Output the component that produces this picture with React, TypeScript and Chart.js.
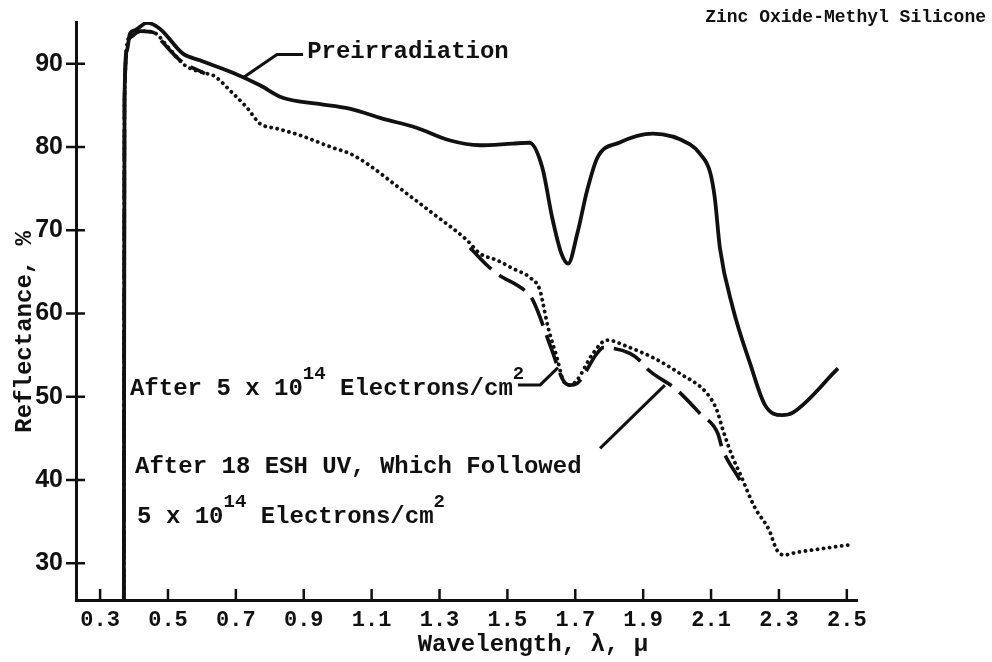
import React, { useEffect, useRef } from "react";
import { Chart, registerables } from "chart.js";

Chart.register(...registerables);

const INK = "#111111";
const MONO = '"Liberation Mono", "Courier New", "DejaVu Sans Mono", monospace';
const SANS = '"Liberation Sans", Arial, sans-serif';

// ---- Data (wavelength in microns, reflectance in %) ----
const preWavelength = [
  0.37, 0.372, 0.379, 0.388, 0.403, 0.438, 0.476, 0.544, 0.594, 0.691,
  0.771, 0.838, 0.938, 1.035, 1.132, 1.232, 1.329, 1.418, 1.515, 1.565,
  1.603, 1.632, 1.659, 1.679, 1.706, 1.735, 1.765, 1.829, 1.929, 2.038,
  2.067, 2.097, 2.111, 2.126, 2.164, 2.215, 2.259, 2.309, 2.341, 2.474,
];
const preReflectance = [
  25.6, 86.0, 91.6, 93.6, 94.0, 94.9, 94.2, 91.2, 90.4, 88.9,
  87.4, 85.9, 85.2, 84.6, 83.4, 82.3, 80.8, 80.2, 80.4, 80.5,
  77.5, 71.5, 67.2, 66.0, 69.6, 74.8, 78.7, 80.5, 81.6, 80.3,
  79.2, 77.0, 73.9, 67.9, 60.7, 54.0, 49.0, 47.8, 48.1, 53.4,
];

const electronWavelength = [
  0.37, 0.372, 0.385, 0.42, 0.46, 0.5, 0.55, 0.615, 0.633, 0.692,
  0.733, 0.771, 0.821, 0.889, 0.986, 1.036, 1.086, 1.184, 1.281, 1.381,
  1.419, 1.469, 1.516, 1.567, 1.596, 1.605, 1.62, 1.646, 1.664, 1.684,
  1.705, 1.752, 1.793, 1.861, 1.929, 2.008, 2.088, 2.117, 2.135, 2.164,
  2.185, 2.229, 2.271, 2.294, 2.315, 2.35, 2.433, 2.503,
];
const electronReflectance = [
  25.6, 86.0, 93.0, 93.9, 93.7, 92.0, 89.8, 88.8, 88.6, 86.4,
  84.7, 82.8, 82.2, 81.4, 79.9, 79.2, 78.0, 75.0, 72.0, 68.8,
  67.2, 66.4, 65.4, 64.3, 62.8, 61.2, 58.3, 54.7, 52.0, 51.4,
  52.0, 55.2, 56.8, 55.9, 54.7, 52.8, 50.4, 48.4, 46.0, 42.7,
  40.8, 36.7, 34.0, 31.6, 31.0, 31.3, 31.8, 32.2,
];

// null = the dashed trace is hidden under the dotted one there
const uvWavelength = [
  0.37, 0.372, 0.385, 0.42, 0.46, 0.486, 0.536, 0.609, 0.64, 1.39,
  1.44, 1.469, 1.558, 1.575, 1.631, 1.664, 1.684, 1.705, 1.764, 1.782,
  1.861, 1.899, 1.911, 1.994, 2.023, 2.067, 2.12, 2.132, 2.185,
];
const uvReflectance: (number | null)[] = [
  25.6, 86.0, 93.0, 93.9, 93.7, 92.5, 90.4, 88.8, null, 67.9,
  65.8, 64.8, 62.5, 61.6, 55.6, 52.0, 51.4, 51.6, 55.2, 55.9,
  55.2, 54.0, 53.4, 51.0, 49.9, 48.0, 45.6, 43.9, 40.0,
];

const xTickValues = [0.3, 0.5, 0.7, 0.9, 1.1, 1.3, 1.5, 1.7, 1.9, 2.1, 2.3, 2.5];
const yTickValues = [30, 40, 50, 60, 70, 80, 90];

const chartTitle = "Zinc Oxide-Methyl Silicone";
const xAxisTitle = "Wavelength, \u03bb, \u03bc";
const yAxisTitle = "Reflectance, %";
const preLabel = "Preirradiation";
type Part = { text: string; sup?: boolean };
const electronLabel: Part[] = [
  { text: "After 5 x 10" },
  { text: "14", sup: true },
  { text: " Electrons/cm" },
  { text: "2", sup: true },
];
const uvLabelLine1 = "After 18 ESH UV, Which Followed";
const uvLabelLine2: Part[] = [
  { text: "5 x 10" },
  { text: "14", sup: true },
  { text: " Electrons/cm" },
  { text: "2", sup: true },
];

const pairs = (xs: number[], ys: (number | null)[]) => xs.map((x, i) => ({ x, y: ys[i] }));

const TEXT_SIZE = 24;
const TEXT_FONT = `bold ${TEXT_SIZE}px ${MONO}`;

function drawRich(ctx: CanvasRenderingContext2D, parts: Part[], x: number, y: number) {
  let cx = x;
  for (const p of parts) {
    ctx.font = p.sup ? `bold 19px ${MONO}` : TEXT_FONT;
    ctx.fillText(p.text, cx, p.sup ? y - 16 : y);
    cx += ctx.measureText(p.text).width;
  }
}

const annotate = {
  id: "annotate",
  afterDraw(chart: any) {
    const { ctx, chartArea: a } = chart;
    const xs = chart.scales.x;
    const ys = chart.scales.y;
    const X = (v: number) => xs.getPixelForValue(v);
    const Y = (v: number) => ys.getPixelForValue(v);
    ctx.save();
    ctx.strokeStyle = INK;
    ctx.fillStyle = INK;

    // inward tick marks
    ctx.lineWidth = 2.5;
    ctx.beginPath();
    xTickValues.forEach((v) => {
      ctx.moveTo(X(v), a.bottom);
      ctx.lineTo(X(v), a.bottom - 11);
    });
    yTickValues.forEach((v) => {
      ctx.moveTo(a.left - 10, Y(v));
      ctx.lineTo(a.left + 9, Y(v));
    });
    ctx.stroke();

    // leader lines (anchored in data coordinates)
    const poly = (pts: number[][]) => {
      ctx.beginPath();
      pts.forEach(([vx, vy], i) => (i ? ctx.lineTo(X(vx), Y(vy)) : ctx.moveTo(X(vx), Y(vy))));
      ctx.stroke();
    };
    ctx.lineWidth = 3;
    ctx.lineJoin = "round";
    poly([[0.721, 88.3], [0.821, 91.1], [0.898, 91.1]]);
    poly([[1.531, 51.4], [1.596, 51.4], [1.649, 53.5]]);
    poly([[1.773, 43.8], [1.964, 51.4]]);

    // texts
    ctx.textBaseline = "middle";
    ctx.textAlign = "right";
    ctx.font = `bold 18px ${MONO}`;
    ctx.fillText(chartTitle, chart.width - 6, 17);

    ctx.textAlign = "left";
    ctx.font = TEXT_FONT;
    ctx.fillText(preLabel, X(0.91), Y(91.4));

    ctx.textBaseline = "alphabetic";
    drawRich(ctx, electronLabel, X(0.388), Y(50.16));
    ctx.font = TEXT_FONT;
    ctx.fillText(uvLabelLine1, X(0.403), Y(40.8));
    drawRich(ctx, uvLabelLine2, X(0.409), Y(34.8));

    // axis titles
    ctx.textBaseline = "middle";
    ctx.textAlign = "center";
    ctx.font = TEXT_FONT;
    ctx.fillText(xAxisTitle, X(1.575), a.bottom + 45);
    ctx.save();
    ctx.translate(a.left - 51, Y(57.8));
    ctx.rotate(-Math.PI / 2);
    ctx.fillText(yAxisTitle, 0, 0);
    ctx.restore();

    ctx.restore();
  },
};

export default function App() {
  const canvasRef = useRef<HTMLCanvasElement | null>(null);

  useEffect(() => {
    const canvas = canvasRef.current;
    if (!canvas) return;
    const common = {
      pointRadius: 0,
      pointHoverRadius: 0,
      fill: false,
      borderColor: INK,
      cubicInterpolationMode: "monotone" as const,
      spanGaps: false,
    };
    const chart = new Chart(canvas, {
      type: "line",
      data: {
        datasets: [
          {
            ...common,
            label: preLabel,
            data: pairs(preWavelength, preReflectance),
            borderWidth: 3.8,
          },
          {
            ...common,
            label: "After 5 x 10^14 Electrons/cm^2",
            data: pairs(electronWavelength, electronReflectance),
            borderWidth: 3.8,
            borderDash: [0.1, 6],
            borderCapStyle: "round",
          },
          {
            ...common,
            label: "After 18 ESH UV, Which Followed 5 x 10^14 Electrons/cm^2",
            data: pairs(uvWavelength, uvReflectance),
            borderWidth: 3.6,
            borderDash: [30, 10],
            borderCapStyle: "butt",
          },
        ],
      } as any,
      options: {
        animation: false,
        responsive: false,
        maintainAspectRatio: false,
        devicePixelRatio: 1,
        layout: { padding: { top: 22, right: 135, left: 0, bottom: 0 } },
        plugins: {
          legend: { display: false },
          tooltip: { enabled: false },
          title: { display: false },
        },
        scales: {
          x: {
            type: "linear",
            min: 0.229,
            max: 2.53,
            afterBuildTicks: (s: any) => {
              s.ticks = xTickValues.map((v) => ({ value: v }));
            },
            afterFit: (s: any) => {
              s.height = 62;
            },
            ticks: {
              callback: (v: any) => Number(v).toFixed(1),
              font: { family: MONO, size: 22, weight: "bold" },
              color: INK,
              padding: 7,
              maxRotation: 0,
              autoSkip: false,
            },
            grid: { display: true, drawOnChartArea: false, drawTicks: false },
            border: { display: true, color: INK, width: 3 },
          },
          y: {
            type: "linear",
            min: 25.6,
            max: 95,
            afterBuildTicks: (s: any) => {
              s.ticks = yTickValues.map((v) => ({ value: v }));
            },
            afterFit: (s: any) => {
              s.width = 76;
              s.paddingTop = 0;
              s.paddingBottom = 0;
            },
            ticks: {
              font: { family: SANS, size: 25, weight: "bold" },
              color: INK,
              padding: 13,
              autoSkip: false,
            },
            grid: { display: true, drawOnChartArea: false, drawTicks: false },
            border: { display: true, color: INK, width: 3 },
          },
        },
      } as any,
      plugins: [annotate],
    });
    return () => chart.destroy();
  }, []);

  return (
    <div style={{ position: "fixed", left: 0, top: 0, width: 992, height: 662, background: "#fff" }}>
      <canvas ref={canvasRef} width={992} height={662} style={{ display: "block" }} />
    </div>
  );
}
